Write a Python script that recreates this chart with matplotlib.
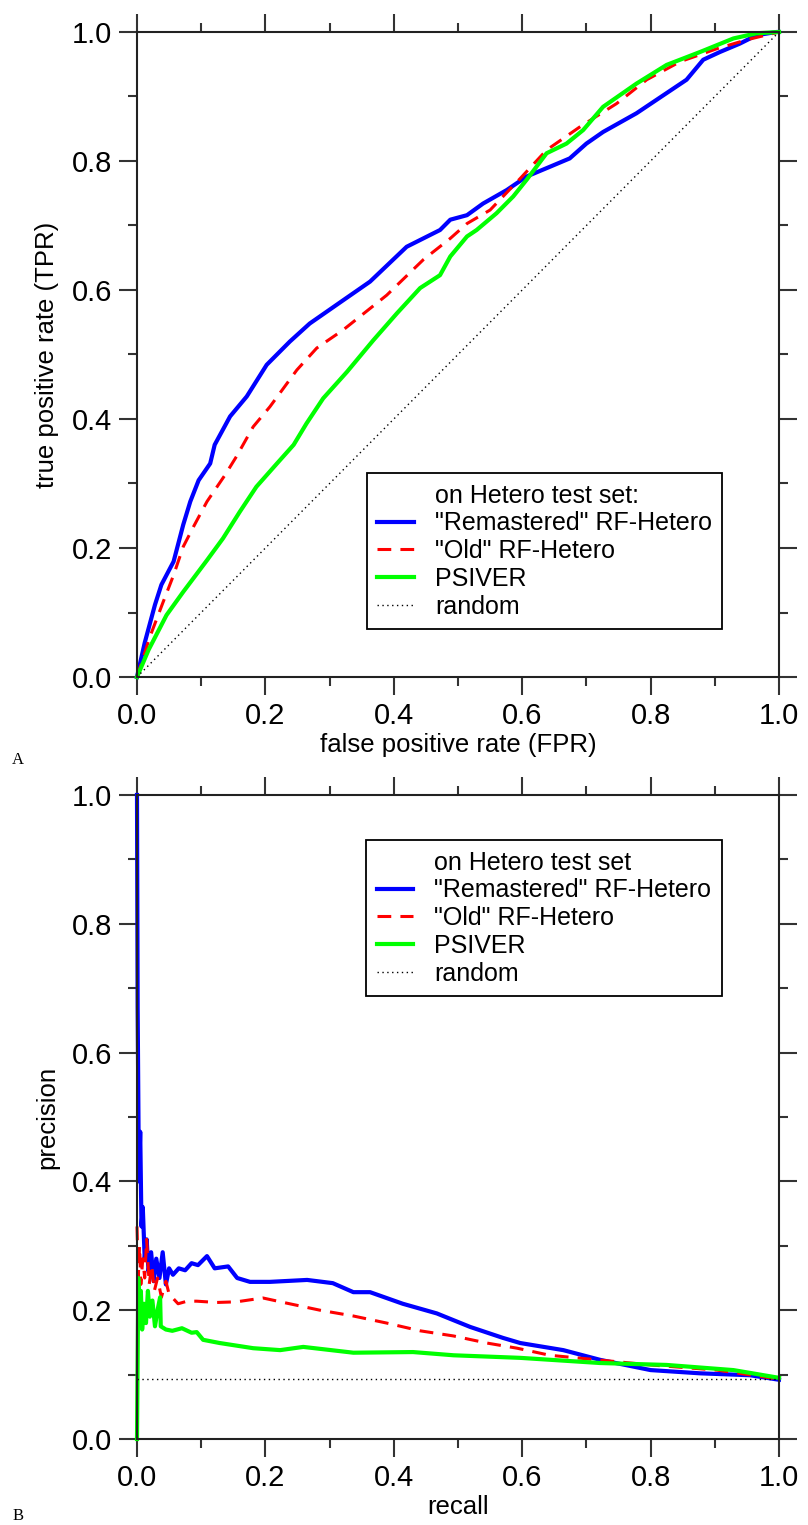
import matplotlib
matplotlib.use("Agg")
import matplotlib.pyplot as plt
from matplotlib.lines import Line2D
from matplotlib.ticker import MultipleLocator, FormatStrFormatter

plt.rcParams['font.family'] = ['Liberation Sans', 'DejaVu Sans']

# ---- panel A: ROC curves ----
fpr_remast = [0, 0.012, 0.028, 0.038, 0.057, 0.072, 0.083, 0.096, 0.114, 0.121, 0.145, 0.171,
              0.202, 0.238, 0.269, 0.321, 0.363, 0.42, 0.472, 0.488, 0.514, 0.539, 0.576, 0.607,
              0.643, 0.674, 0.7, 0.726, 0.778, 0.82, 0.856, 0.882, 0.908, 0.939, 0.965, 0.996, 1.0]
tpr_remast = [0, 0.053, 0.112, 0.143, 0.179, 0.236, 0.272, 0.305, 0.331, 0.36, 0.404, 0.435,
              0.484, 0.52, 0.548, 0.584, 0.613, 0.667, 0.693, 0.709, 0.716, 0.734, 0.755, 0.776,
              0.791, 0.804, 0.827, 0.845, 0.874, 0.902, 0.926, 0.957, 0.969, 0.982, 0.995, 1.0, 1.0]

fpr_old = [0, 0.02, 0.041, 0.057, 0.072, 0.088, 0.109, 0.137, 0.155, 0.181, 0.207, 0.249, 0.28,
           0.321, 0.389, 0.446, 0.488, 0.514, 0.55, 0.597, 0.638, 0.69, 0.747, 0.794, 0.846,
           0.903, 0.95, 1.0]
tpr_old = [0, 0.062, 0.117, 0.158, 0.202, 0.233, 0.272, 0.313, 0.342, 0.388, 0.419, 0.476, 0.51,
           0.538, 0.592, 0.647, 0.68, 0.703, 0.724, 0.773, 0.817, 0.853, 0.889, 0.926, 0.954,
           0.974, 0.988, 1.0]

fpr_psiver = [0, 0.018, 0.046, 0.072, 0.109, 0.134, 0.16, 0.186, 0.218, 0.244, 0.264, 0.29,
              0.327, 0.368, 0.405, 0.441, 0.472, 0.488, 0.514, 0.529, 0.56, 0.586, 0.607, 0.638,
              0.669, 0.695, 0.726, 0.778, 0.825, 0.877, 0.929, 0.965, 1.0]
tpr_psiver = [0, 0.042, 0.096, 0.132, 0.181, 0.215, 0.256, 0.295, 0.331, 0.36, 0.393, 0.432,
              0.473, 0.522, 0.564, 0.603, 0.623, 0.652, 0.683, 0.693, 0.719, 0.745, 0.771, 0.812,
              0.827, 0.848, 0.884, 0.92, 0.949, 0.969, 0.99, 0.998, 1.0]

# ---- panel B: precision / recall ----
rec_remast = [0, 0.001, 0.003, 0.005, 0.007, 0.009, 0.012, 0.015, 0.018, 0.022, 0.026, 0.03,
              0.035, 0.04, 0.045, 0.05, 0.056, 0.065, 0.075, 0.085, 0.095, 0.109, 0.121, 0.142,
              0.156, 0.176, 0.207, 0.265, 0.305, 0.337, 0.363, 0.414, 0.467, 0.519, 0.57, 0.597,
              0.664, 0.721, 0.8, 0.877, 0.955, 1.0]
prec_remast = [1.0, 0.67, 0.4, 0.477, 0.33, 0.36, 0.28, 0.31, 0.26, 0.29, 0.245, 0.28, 0.25,
               0.29, 0.24, 0.265, 0.255, 0.265, 0.262, 0.273, 0.27, 0.284, 0.265, 0.268, 0.25,
               0.244, 0.244, 0.247, 0.242, 0.228, 0.228, 0.21, 0.195, 0.174, 0.157, 0.149,
               0.138, 0.123, 0.107, 0.102, 0.099, 0.092]

rec_old = [0, 0.002, 0.004, 0.006, 0.009, 0.012, 0.015, 0.019, 0.023, 0.027, 0.032, 0.038,
           0.045, 0.05, 0.064, 0.078, 0.093, 0.124, 0.155, 0.196, 0.233, 0.285, 0.337, 0.389,
           0.441, 0.493, 0.545, 0.592, 0.643, 0.706, 0.8, 0.903, 1.0]
prec_old = [0.33, 0.25, 0.3, 0.24, 0.28, 0.25, 0.31, 0.24, 0.27, 0.23, 0.25, 0.22, 0.245, 0.225,
            0.21, 0.214, 0.214, 0.212, 0.213, 0.219, 0.211, 0.2, 0.191, 0.18, 0.168, 0.16,
            0.149, 0.141, 0.13, 0.124, 0.115, 0.107, 0.093]

rec_psiver = [0, 0.002, 0.004, 0.006, 0.008, 0.011, 0.014, 0.017, 0.02, 0.024, 0.028, 0.032,
              0.036, 0.037, 0.045, 0.055, 0.07, 0.085, 0.093, 0.103, 0.129, 0.181, 0.223, 0.259,
              0.337, 0.43, 0.493, 0.597, 0.721, 0.825, 0.929, 1.0]
prec_psiver = [0.0, 0.25, 0.19, 0.23, 0.17, 0.21, 0.18, 0.23, 0.19, 0.215, 0.175, 0.2, 0.22,
               0.175, 0.17, 0.168, 0.172, 0.165, 0.166, 0.154, 0.149, 0.141, 0.138, 0.143,
               0.134, 0.135, 0.13, 0.126, 0.118, 0.115, 0.107, 0.095]

random_prec = 0.093

series_labels = ['"Remastered" RF-Hetero', '"Old" RF-Hetero', 'PSIVER', 'random']


def style_axes(ax):
    ax.set_xlim(0, 1)
    ax.set_ylim(0, 1)
    for axis in (ax.xaxis, ax.yaxis):
        axis.set_major_locator(MultipleLocator(0.2))
        axis.set_minor_locator(MultipleLocator(0.1))
        axis.set_major_formatter(FormatStrFormatter('%.1f'))
    ax.tick_params(which='both', direction='out', top=True, right=True,
                   labeltop=False, labelright=False, width=1.5, color='#333333')
    ax.tick_params(which='major', length=13, labelsize=21, pad=5)
    ax.tick_params(which='minor', length=6.5)
    for s in ax.spines.values():
        s.set_linewidth(1.5)
        s.set_color('#222222')


def add_legend(ax, title, anchor):
    # first row is a caption with no line
    handles = [Line2D([], [], color='none'),
               Line2D([], [], color='blue', lw=3),
               Line2D([], [], color='red', lw=2.2, dashes=(4.5, 3)),
               Line2D([], [], color='#00ff00', lw=3),
               Line2D([], [], color='black', lw=1, linestyle=(0, (1, 2.5)))]
    labels = [title] + series_labels
    leg = ax.legend(handles, labels, loc='upper left', bbox_to_anchor=anchor,
                    borderaxespad=0, fancybox=False, framealpha=1, edgecolor='black',
                    fontsize=18, handlelength=1.45, handletextpad=0.85,
                    labelspacing=0.15, borderpad=0.42)
    leg.get_frame().set_linewidth(1.3)
    return leg


fig = plt.figure(figsize=(8.08, 15.25), dpi=100)
axA = fig.add_axes([137 / 808, 1 - 677 / 1525, 642 / 808, 645 / 1525])
axB = fig.add_axes([137 / 808, 1 - 1439 / 1525, 642 / 808, 644 / 1525])

# A
axA.plot(fpr_remast, tpr_remast, color='blue', lw=3, clip_on=False)
axA.plot(fpr_old, tpr_old, color='red', lw=2.2, dashes=(4.5, 3), clip_on=False)
axA.plot(fpr_psiver, tpr_psiver, color='#00ff00', lw=3, clip_on=False)
axA.plot([0, 1], [0, 1], color='black', lw=1, linestyle=(0, (1, 2.5)))
style_axes(axA)
axA.set_xlabel('false positive rate (FPR)', fontsize=18.5, labelpad=2)
axA.set_ylabel('true positive rate (TPR)', fontsize=18.5, labelpad=9)
add_legend(axA, 'on Hetero test set:', (0.358, 0.316))

# B
axB.plot(rec_remast, prec_remast, color='blue', lw=3, clip_on=False)
axB.plot(rec_old, prec_old, color='red', lw=2.2, dashes=(4.5, 3), clip_on=False)
axB.plot(rec_psiver, prec_psiver, color='#00ff00', lw=3, clip_on=False)
axB.plot([0, 1], [random_prec, random_prec], color='black', lw=1, linestyle=(0, (1, 2.5)))
style_axes(axB)
axB.set_xlabel('recall', fontsize=18.5, labelpad=2)
axB.set_ylabel('precision', fontsize=18.5, labelpad=9)
add_legend(axB, 'on Hetero test set', (0.357, 0.930))

fig.text(18 / 808, 1 - 760 / 1525, 'A', family=['Liberation Serif', 'DejaVu Serif'],
         fontsize=12, ha='center', va='center')
fig.text(18 / 808, 1 - 1516 / 1525, 'B', family=['Liberation Serif', 'DejaVu Serif'],
         fontsize=12, ha='center', va='center')

fig.savefig('out.png', dpi=100)
